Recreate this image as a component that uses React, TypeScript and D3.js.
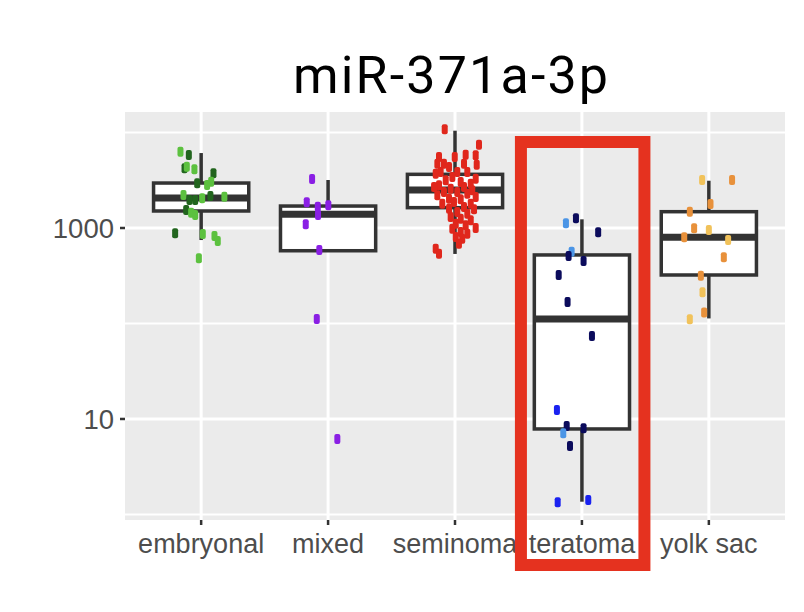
import React from "react";
import * as d3 from "d3";

const categories = ["embryonal", "mixed", "seminoma", "teratoma", "yolk sac"];
const boxQ1 = [1507, 578, 1633, 7.86, 322];
const boxMedian = [2061, 1391, 2500, 111.5, 800];
const boxQ3 = [2958, 1698, 3648, 522, 1482];
const whiskerLow = [748, 578, 535, 1.36, 113];
const whiskerHigh = [6095, 3184, 10450, 1233, 3126];

const yTicks = [10, 1000];
const yMinor = [1, 100, 10000];

const pointColors: Record<string, string> = {
  lg: "#5cc13f",
  dg: "#22651e",
  pu: "#8a1fe4",
  rd: "#e0271c",
  nv: "#0b0b5c",
  bl: "#1a22f0",
  lb: "#4b95e6",
  or: "#e8913b",
  ye: "#f1c25a",
};

// [jitter (fraction of category step), value, colour key]
const embryonalPoints: [number, number, string][] = [
  [-0.163, 6295, "lg"], [-0.097, 5813, "dg"], [-0.131, 4219, "dg"], [-0.113, 4384, "lg"],
  [-0.053, 4120, "lg"], [0.097, 3739, "dg"], [0.079, 3053, "lg"], [-0.031, 2938, "dg"],
  [0.047, 2820, "lg"], [-0.139, 2216, "lg"], [-0.092, 1965, "dg"], [-0.047, 1960, "dg"],
  [0.008, 2046, "lg"], [0.073, 2163, "dg"], [0.183, 2127, "lg"], [-0.118, 1543, "dg"],
  [-0.079, 1446, "lg"], [-0.047, 1368, "lg"], [-0.205, 880, "dg"], [0.013, 865, "lg"],
  [0.105, 825, "lg"], [0.131, 731, "lg"], [-0.018, 482, "lg"],
];
const mixedPoints: [number, number, string][] = [
  [-0.126, 3260, "pu"], [-0.168, 1858, "pu"], [-0.081, 1671, "pu"], [0.002, 1729, "pu"],
  [-0.079, 1368, "pu"], [-0.176, 1093, "pu"], [-0.069, 588, "pu"], [-0.089, 111.5, "pu"],
  [0.073, 6.17, "pu"],
];
const seminomaPoints: [number, number, string][] = [
  [-0.081, 10800, "rd"], [0.189, 7450, "rd"], [0.163, 5770, "rd"], [0.084, 5855, "rd"],
  [-0.002, 5540, "rd"], [-0.126, 5540, "rd"], [0.171, 4600, "rd"], [0.071, 4713, "rd"],
  [-0.087, 4713, "rd"], [-0.139, 4700, "rd"], [-0.047, 4352, "rd"], [0.097, 3858, "rd"],
  [0.018, 3860, "rd"], [-0.113, 3850, "rd"], [-0.152, 3703, "rd"], [0.163, 3283, "rd"],
  [-0.021, 3420, "rd"], [-0.073, 3159, "rd"], [0.045, 3032, "rd"], [0.124, 2911, "rd"],
  [-0.126, 2800, "rd"], [-0.165, 2688, "rd"], [0.071, 2690, "rd"], [-0.034, 2580, "rd"],
  [0.136, 2482, "rd"], [-0.087, 2382, "rd"], [0.018, 2380, "rd"], [0.097, 2287, "rd"],
  [-0.139, 2200, "rd"], [0.163, 2112, "rd"], [-0.047, 2027, "rd"], [0.045, 1998, "rd"],
  [-0.008, 1873, "rd"], [0.124, 1797, "rd"], [-0.1, 1795, "rd"], [0.071, 1659, "rd"],
  [-0.047, 1593, "rd"], [0.15, 1570, "rd"], [0.018, 1471, "rd"], [0.097, 1412, "rd"],
  [-0.034, 1304, "rd"], [0.045, 1252, "rd"], [0.124, 1204, "rd"], [0.006, 1109, "rd"],
  [0.084, 1067, "rd"], [0.163, 1000, "rd"], [-0.021, 983, "rd"], [0.045, 908, "rd"],
  [0.097, 872, "rd"], [0.006, 805, "rd"], [0.057, 773, "rd"], [0.031, 685, "rd"],
  [-0.152, 607, "rd"], [-0.126, 538, "rd"],
];
const teratomaPoints: [number, number, string][] = [
  [-0.047, 1263, "nv"], [-0.126, 1120, "lb"], [0.128, 902, "nv"], [-0.081, 565, "lb"],
  [-0.105, 509, "nv"], [0.013, 451, "nv"], [-0.183, 322, "nv"], [-0.113, 168, "nv"],
  [0.079, 74, "nv"], [-0.197, 12.4, "bl"], [-0.12, 8.45, "nv"], [-0.147, 7.08, "lb"],
  [0.013, 8.0, "nv"], [-0.094, 5.21, "nv"], [-0.191, 1.34, "bl"], [0.05, 1.42, "bl"],
];
const yolkSacPoints: [number, number, string][] = [
  [-0.053, 3180, "ye"], [0.183, 3180, "or"], [0.013, 1783, "or"], [-0.15, 1482, "or"],
  [-0.116, 993, "or"], [0.0, 953, "ye"], [-0.194, 800, "or"], [0.152, 749, "ye"],
  [0.118, 493, "or"], [-0.063, 317, "or"], [-0.05, 212, "ye"], [-0.037, 130, "or"],
  [-0.15, 111, "ye"],
];
const pointsByCategory = [embryonalPoints, mixedPoints, seminomaPoints, teratomaPoints, yolkSacPoints];

const title = "miR-371a-3p";
const highlighted = "teratoma";

export default function App() {
  const W = 804, H = 612;
  const panel = { left: 125, right: 785, top: 112, bottom: 520 };
  const x = d3.scalePoint<string>().domain(categories).range([panel.left, panel.right]).padding(0.6);
  const step = x.step();
  const y = d3.scaleLog().domain([0.875, 16400]).range([panel.bottom, panel.top]);
  const boxW = step * 0.75;
  const dark = "#333333";

  const hx = x(highlighted)!;
  const hi = { left: hx - 61, right: hx + 62.5, top: 142, bottom: 565 };

  return (
    <svg width={W} height={H} style={{ position: "absolute", left: 0, top: 0, background: "#fff" }}>
      <text x={450.5} y={93} textAnchor="middle" fontFamily="Roboto, sans-serif" fontSize={52}
        textLength={315} lengthAdjust="spacing" fill="#000">{title}</text>
      <rect x={panel.left} y={panel.top} width={panel.right - panel.left} height={panel.bottom - panel.top} fill="#ebebeb" />
      {yMinor.map((v) => (
        <line key={"mi" + v} x1={panel.left} x2={panel.right} y1={y(v)} y2={y(v)} stroke="#fff" strokeWidth={2} />
      ))}
      {yTicks.map((v) => (
        <line key={"ma" + v} x1={panel.left} x2={panel.right} y1={y(v)} y2={y(v)} stroke="#fff" strokeWidth={3} />
      ))}
      {categories.map((c) => (
        <line key={"vg" + c} x1={x(c)} x2={x(c)} y1={panel.top} y2={panel.bottom} stroke="#fff" strokeWidth={3} />
      ))}
      {categories.map((c, i) => {
        const cx = x(c)!;
        return (
          <g key={"box" + c}>
            <line x1={cx} x2={cx} y1={y(whiskerHigh[i])} y2={y(boxQ3[i])} stroke={dark} strokeWidth={3.5} />
            <line x1={cx} x2={cx} y1={y(boxQ1[i])} y2={y(whiskerLow[i])} stroke={dark} strokeWidth={3.5} />
            <rect x={cx - boxW / 2} y={y(boxQ3[i])} width={boxW} height={y(boxQ1[i]) - y(boxQ3[i])}
              fill="#fff" stroke={dark} strokeWidth={3.5} />
            <line x1={cx - boxW / 2} x2={cx + boxW / 2} y1={y(boxMedian[i])} y2={y(boxMedian[i])} stroke={dark} strokeWidth={7} />
          </g>
        );
      })}
      {categories.map((c, i) => (
        <g key={"pts" + c}>
          {pointsByCategory[i].map(([j, v, k], n) => (
            <rect key={n} x={x(c)! + j * step - 3} y={y(v) - 5} width={6} height={10} rx={2}
              fill={pointColors[k]} />
          ))}
        </g>
      ))}
      {yTicks.map((v) => (
        <g key={"yt" + v}>
          <line x1={panel.left - 5} x2={panel.left} y1={y(v)} y2={y(v)} stroke={dark} strokeWidth={2.5} />
          <text x={panel.left - 11} y={y(v)} dy="0.36em" textAnchor="end" fontFamily="Liberation Sans, Arial, sans-serif"
            fontSize={27.5} fill="#4d4d4d">{v}</text>
        </g>
      ))}
      {categories.map((c) => (
        <g key={"xt" + c}>
          <line x1={x(c)} x2={x(c)} y1={panel.bottom} y2={panel.bottom + 5} stroke={dark} strokeWidth={2.5} />
          <text x={x(c)} y={553} textAnchor="middle" fontFamily="Liberation Sans, Arial, sans-serif"
            fontSize={27} fill="#4d4d4d">{c}</text>
        </g>
      ))}
      <rect x={hi.left} y={hi.top} width={hi.right - hi.left} height={hi.bottom - hi.top}
        fill="none" stroke="#e5321f" strokeWidth={12} />
    </svg>
  );
}
